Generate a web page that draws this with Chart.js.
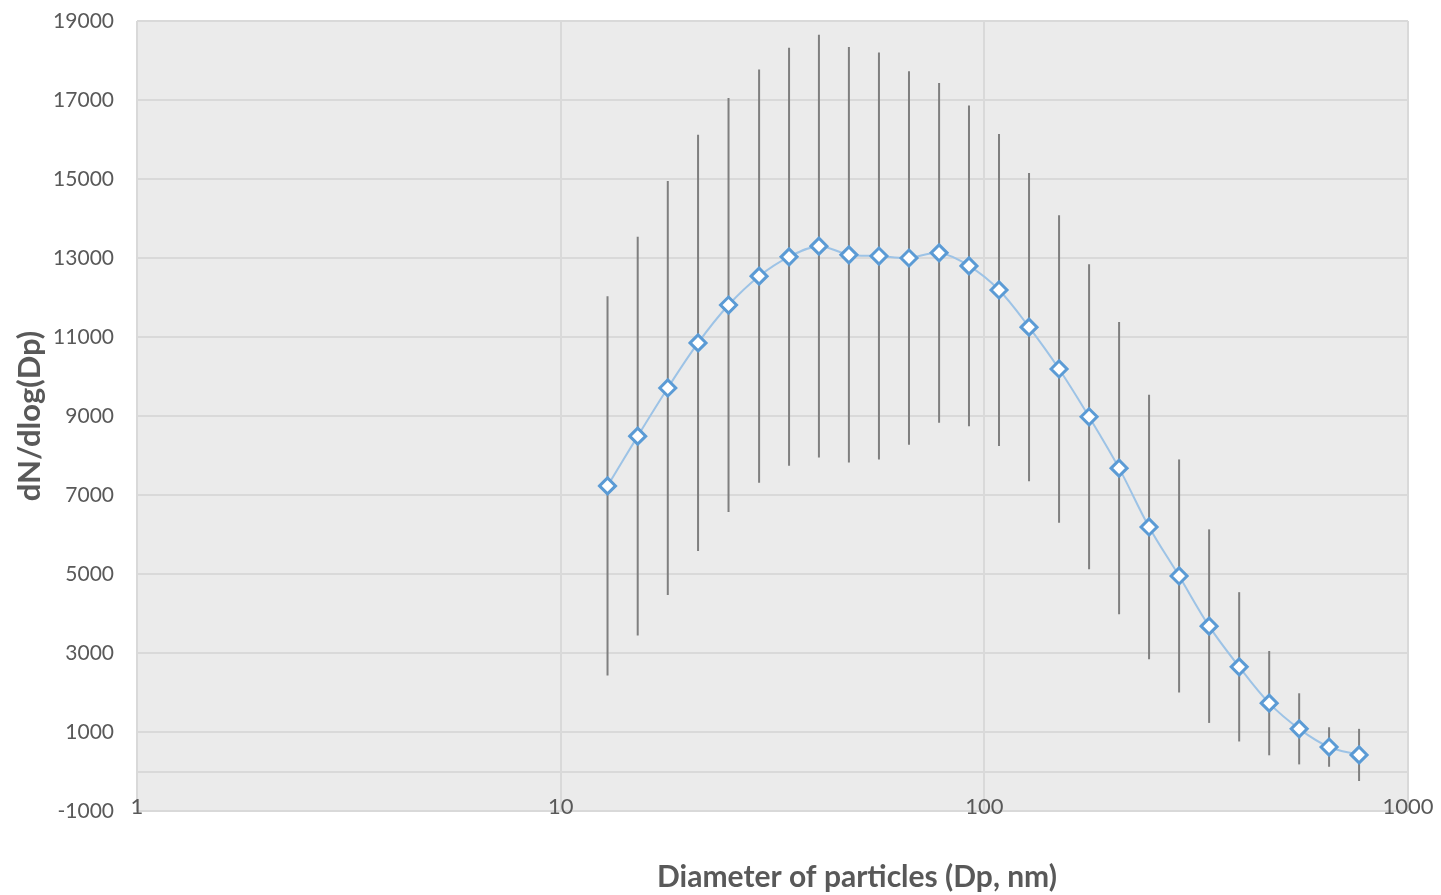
<!DOCTYPE html>
<html>
<head>
<meta charset="utf-8">
<script src="https://cdn.jsdelivr.net/npm/chart.js@4"></script>
<style>
  body { margin: 0; background: #fff; }
  #wrap { width: 1441px; height: 895px; }
</style>
</head>
<body>
<div id="wrap"><canvas id="chart" width="1441" height="895"></canvas></div>
<script>
// diameter bins (nm) and dN/dlog(Dp)
const diameters = [12.9, 15.2, 17.9, 21.1, 24.9, 29.4, 34.6, 40.7, 47.9, 56.4, 66.4, 78.2, 92.0,
    108.3, 127.5, 150.1, 176.7, 208.0, 244.8, 288.2, 339.3, 399.5, 470.3, 553.5, 651.2, 766.5];
const concentration = [7230, 8490, 9710, 10850, 11810, 12540, 13030, 13300, 13080, 13050, 13000, 13130, 12800,
    12190, 11250, 10190, 8980, 7680, 6190, 4950, 3680, 2650, 1730, 1080, 620, 420];
const errorBars = [4800, 5050, 5240, 5270, 5240, 5230, 5290, 5350, 5260, 5150, 4730, 4300, 4060,
    3950, 3900, 3890, 3860, 3700, 3350, 2950, 2450, 1890, 1320, 900, 500, 660];

const xTicks = [1, 10, 100, 1000];
const yTicks = [-1000, 0, 1000, 3000, 5000, 7000, 9000, 11000, 13000, 15000, 17000, 19000];

const xTitle = 'Diameter of particles (Dp, nm)';
const yTitle = 'dN/dlog(Dp)';

const textColor = '#595959';
const fontFamily = 'Lato, "Open Sans", sans-serif';

// grey plot background
const plotBackground = {
    id: 'plotBackground',
    beforeDraw(chart) {
        const { ctx, chartArea } = chart;
        ctx.save();
        ctx.fillStyle = '#EBEBEB';
        ctx.fillRect(chartArea.left, chartArea.top, chartArea.right - chartArea.left, chartArea.bottom - chartArea.top);
        ctx.restore();
    }
};

// vertical error bars, no caps
const errorBarPlugin = {
    id: 'errorBars',
    beforeDatasetsDraw(chart) {
        const { ctx } = chart;
        const xs = chart.scales.x;
        const ys = chart.scales.y;
        ctx.save();
        ctx.strokeStyle = '#7F7F7F';
        ctx.lineWidth = 2;
        diameters.forEach((d, i) => {
            const px = xs.getPixelForValue(d);
            ctx.beginPath();
            ctx.moveTo(px, ys.getPixelForValue(concentration[i] + errorBars[i]));
            ctx.lineTo(px, ys.getPixelForValue(concentration[i] - errorBars[i]));
            ctx.stroke();
        });
        ctx.restore();
    }
};

// axis titles (x title sits right of centre in the original)
const axisTitles = {
    id: 'axisTitles',
    afterDraw(chart) {
        const { ctx, chartArea } = chart;
        ctx.save();
        ctx.fillStyle = textColor;
        ctx.textAlign = 'center';
        ctx.textBaseline = 'middle';
        ctx.font = 'bold 30px ' + fontFamily;
        ctx.fillText(xTitle, chartArea.left + 720, 877);
        ctx.font = 'bold 31px ' + fontFamily;
        ctx.translate(30, (chartArea.top + chartArea.bottom) / 2);
        ctx.rotate(-Math.PI / 2);
        ctx.fillText(yTitle, 0, 0);
        ctx.restore();
    }
};

new Chart(document.getElementById('chart'), {
    type: 'line',
    data: {
        datasets: [{
            data: diameters.map((d, i) => ({ x: d, y: concentration[i] })),
            borderColor: '#9DC3E6',
            borderWidth: 2,
            tension: 0.35,
            pointStyle: 'rectRot',
            pointRadius: 8,
            pointBorderWidth: 3,
            pointBackgroundColor: '#FFFFFF',
            pointBorderColor: '#5B9BD5'
        }]
    },
    options: {
        responsive: false,
        animation: false,
        layout: { padding: { top: 21, right: 33, left: 0, bottom: 0 } },
        plugins: {
            legend: { display: false },
            tooltip: { enabled: false }
        },
        scales: {
            x: {
                type: 'logarithmic',
                min: 1,
                max: 1000,
                afterBuildTicks(scale) {
                    scale.ticks = xTicks.map(v => ({ value: v }));
                },
                afterFit(scale) { scale.height = 84; },
                grid: { color: '#D9D9D9', lineWidth: 2, drawTicks: false },
                border: { display: false },
                ticks: {
                    color: textColor,
                    font: { family: fontFamily, size: 22 },
                    mirror: true,
                    padding: -9,
                    maxRotation: 0,
                    callback: v => String(v)
                }
            },
            y: {
                min: -1000,
                max: 19000,
                afterBuildTicks(scale) {
                    scale.ticks = yTicks.map(v => ({ value: v }));
                },
                afterFit(scale) {
                    scale.width = 137;
                    scale.paddingTop = 0;
                    scale.paddingBottom = 0;
                },
                grid: { color: '#D9D9D9', lineWidth: 2, drawTicks: false },
                border: { display: false },
                ticks: {
                    color: textColor,
                    font: { family: fontFamily, size: 21 },
                    padding: 23,
                    callback: v => (v === 0 ? '' : String(v))
                }
            }
        }
    },
    plugins: [plotBackground, errorBarPlugin, axisTitles]
});
</script>
</body>
</html>
